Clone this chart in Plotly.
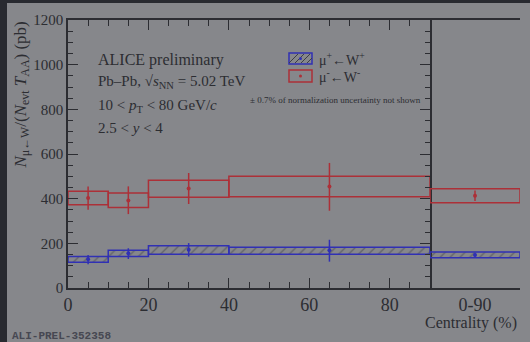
import plotly.graph_objects as go

# ---------------- data ----------------
bin_lo = [0, 10, 20, 40]
bin_hi = [10, 20, 40, 90]
bin_pt = [5, 15, 30, 65]

# mu- <- W-
wm_val = [403, 392, 445, 455]
wm_stat_up = [52, 63, 70, 105]
wm_stat_dn = [53, 61, 69, 109]
wm_sys_up = [30, 33, 37, 45]
wm_sys_dn = [30, 31, 39, 46]

# mu+ <- W+
wp_val = [129, 156, 171, 169]
wp_stat_up = [19, 22, 30, 47]
wp_stat_dn = [23, 26, 30, 51]
wp_sys_up = [12, 13, 18, 14]
wp_sys_dn = [14, 15, 20, 18]

# integrated 0-90
int_label = ["0-90"]
int_wm = [413]; int_wm_stat = [24]; int_wm_sys = [31]
int_wp = [148]; int_wp_stat = [8]; int_wp_sys = [13]

x_ticks = [0, 20, 40, 60, 80]
y_ticks = [0, 200, 400, 600, 800, 1000, 1200]

# ---------------- style ----------------
BG = "rgb(134,135,139)"
DARK = "rgb(44,45,50)"
RED = "rgb(172,48,56)"
BLUE = "rgb(48,48,180)"
HATCH = "rgb(60,60,70)"
FONT = "Liberation Serif"

W, H = 530, 342
L, R, T, B = 68, 10, 20, 54
PW, PH = W - L - R, H - T - B

def px(x):
    return (x - L) / PW

def py(y):
    return (H - B - y) / PH

fig = go.Figure()

centers = [(a + b) / 2 for a, b in zip(bin_lo, bin_hi)]
widths = [b - a for a, b in zip(bin_lo, bin_hi)]

def sys_bar(xc, wd, val, up, dn, color, hatch, xa):
    marker = dict(color="rgba(0,0,0,0)", line=dict(color=color, width=1.5))
    if hatch:
        marker["pattern"] = dict(shape="/", fgcolor=HATCH, bgcolor="rgba(0,0,0,0)",
                                 size=7, solidity=0.18)
    return go.Bar(x=xc, y=[u + d for u, d in zip(up, dn)],
                  base=[v - d for v, d in zip(val, dn)], width=wd,
                  marker=marker, xaxis=xa, yaxis="y", showlegend=False)

def pts(xc, val, up, dn, color, xa):
    return go.Scatter(x=xc, y=val, mode="markers", xaxis=xa, yaxis="y",
                      marker=dict(color=color, size=4),
                      error_y=dict(type="data", array=up, arrayminus=dn,
                                   color=color, thickness=1.5, width=0),
                      showlegend=False)

fig.add_trace(sys_bar(centers, widths, wm_val, wm_sys_up, wm_sys_dn, RED, False, "x"))
fig.add_trace(sys_bar(centers, widths, wp_val, wp_sys_up, wp_sys_dn, BLUE, True, "x"))
fig.add_trace(sys_bar([0.5], [1], int_wm, int_wm_sys, int_wm_sys, RED, False, "x2"))
fig.add_trace(sys_bar([0.5], [1], int_wp, int_wp_sys, int_wp_sys, BLUE, True, "x2"))
fig.add_trace(pts(bin_pt, wm_val, wm_stat_up, wm_stat_dn, RED, "x"))
fig.add_trace(pts(bin_pt, wp_val, wp_stat_up, wp_stat_dn, BLUE, "x"))
fig.add_trace(pts([0.5], int_wm, int_wm_stat, int_wm_stat, RED, "x2"))
fig.add_trace(pts([0.5], int_wp, int_wp_stat, int_wp_stat, BLUE, "x2"))

split = px(430)
axcommon = dict(showgrid=False, zeroline=False, linecolor=DARK, linewidth=1.5,
                tickcolor=DARK, tickwidth=1.2,
                tickfont=dict(family=FONT, color=DARK))

fig.update_layout(
    width=W, height=H, margin=dict(l=L, r=R, t=T, b=B),
    paper_bgcolor=BG, plot_bgcolor=BG, barmode="overlay",
    font=dict(family=FONT, color=DARK),
    xaxis=dict(axcommon, domain=[0, split], range=[0, 90], anchor="y",
               tickvals=x_ticks, ticks="inside", ticklen=10, showline=True,
               mirror="ticks", tickfont=dict(family=FONT, size=18, color=DARK),
               minor=dict(dtick=5, tick0=0, ticks="inside", ticklen=6,
                          tickcolor=DARK, tickwidth=1.2)),
    xaxis2=dict(axcommon, domain=[split, 1], range=[0, 1], anchor="y",
                tickvals=[0.5], ticktext=int_label, ticks="", showline=True,
                mirror=True, tickfont=dict(family=FONT, size=18, color=DARK)),
    yaxis=dict(axcommon, range=[0, 1200], tickvals=y_ticks, ticks="inside",
               ticklen=10, showline=True, mirror="ticks", anchor="x",
               tickfont=dict(family=FONT, size=15, color=DARK),
               minor=dict(dtick=50, tick0=0, ticks="inside", ticklen=5,
                          tickcolor=DARK, tickwidth=1.2)),
    yaxis3=dict(axcommon, range=[0, 1200], overlaying="y", anchor="x2",
                side="right", tickvals=y_ticks, ticks="inside", ticklen=5,
                showticklabels=False, showline=True,
                minor=dict(dtick=50, tick0=0, ticks="inside", ticklen=3,
                           tickcolor=DARK, tickwidth=1.2)),
)

ann = []
ann.append(dict(xref="paper", yref="paper", x=px(21), y=1.0, xanchor="center",
                yanchor="top", textangle=-90, showarrow=False,
                text="<i>N</i><sub>μ←W</sub>/(<i>N</i><sub>evt</sub> <i>T</i><sub>AA</sub>) (pb)",
                font=dict(family=FONT, size=17, color=DARK)))
texts = [("ALICE preliminary", 60),
         ("Pb–Pb, √<i>s</i><sub>NN</sub> = 5.02 TeV", 82),
         ("10 < <i>p</i><sub>T</sub> < 80 GeV/<i>c</i>", 106),
         ("2.5 < <i>y</i> < 4", 128)]
for t, yy in texts:
    ann.append(dict(xref="paper", yref="paper", x=px(96), y=py(yy), xanchor="left",
                    yanchor="middle", showarrow=False, text=t,
                    font=dict(family=FONT, size=16 if yy == 60 else 15, color=DARK)))
ann.append(dict(xref="paper", yref="paper", x=px(317), y=py(59), xanchor="left",
                yanchor="middle", showarrow=False, text="μ<sup>+</sup>←W<sup>+</sup>",
                font=dict(family=FONT, size=14, color=DARK)))
ann.append(dict(xref="paper", yref="paper", x=px(317), y=py(76), xanchor="left",
                yanchor="middle", showarrow=False, text="μ<sup>-</sup>←W<sup>-</sup>",
                font=dict(family=FONT, size=14, color=DARK)))
ann.append(dict(xref="paper", yref="paper", x=px(335), y=py(100), xanchor="center",
                yanchor="middle", showarrow=False,
                text="± 0.7% of normalization uncertainty not shown",
                font=dict(family=FONT, size=9, color=DARK)))
ann.append(dict(xref="paper", yref="paper", x=px(519), y=py(323), xanchor="right",
                yanchor="middle", showarrow=False, text="Centrality (%)",
                font=dict(family=FONT, size=16, color=DARK)))
ann.append(dict(xref="paper", yref="paper", x=px(10), y=py(336), xanchor="left",
                yanchor="middle", showarrow=False, text="<b>ALI-PREL-352358</b>",
                font=dict(family="Liberation Mono", size=11, color="rgb(70,72,82)")))
fig.update_layout(annotations=ann)

shapes = []
# legend swatches
shapes.append(dict(type="rect", xref="paper", yref="paper", x0=px(289), x1=px(312),
                   y0=py(64), y1=py(53), line=dict(color=BLUE, width=1.5)))
for k in range(4):
    x0 = 289 + k * 6
    shapes.append(dict(type="line", xref="paper", yref="paper",
                       x0=px(x0), y0=py(63), x1=px(min(x0 + 9, 312)),
                       y1=py(63 - (min(x0 + 9, 312) - x0)),
                       line=dict(color=HATCH, width=1)))
shapes.append(dict(type="rect", xref="paper", yref="paper", x0=px(289), x1=px(312),
                   y0=py(82), y1=py(70), line=dict(color=RED, width=1.5)))
shapes.append(dict(type="circle", xref="paper", yref="paper", x0=px(299), x1=px(302),
                   y0=py(60), y1=py(57), fillcolor=BLUE, line=dict(width=0)))
shapes.append(dict(type="circle", xref="paper", yref="paper", x0=px(299), x1=px(302),
                   y0=py(77.5), y1=py(74.5), fillcolor=RED, line=dict(width=0)))
# dark frame strips of the screenshot
shapes.append(dict(type="rect", xref="paper", yref="paper", x0=px(0), x1=px(7),
                   y0=py(H), y1=py(0), fillcolor="rgb(40,42,48)", line=dict(width=0)))
shapes.append(dict(type="rect", xref="paper", yref="paper", x0=px(0), x1=px(W),
                   y0=py(3), y1=py(0), fillcolor="rgb(40,42,48)", line=dict(width=0)))
fig.update_layout(shapes=shapes)

fig.write_html("out.html")
